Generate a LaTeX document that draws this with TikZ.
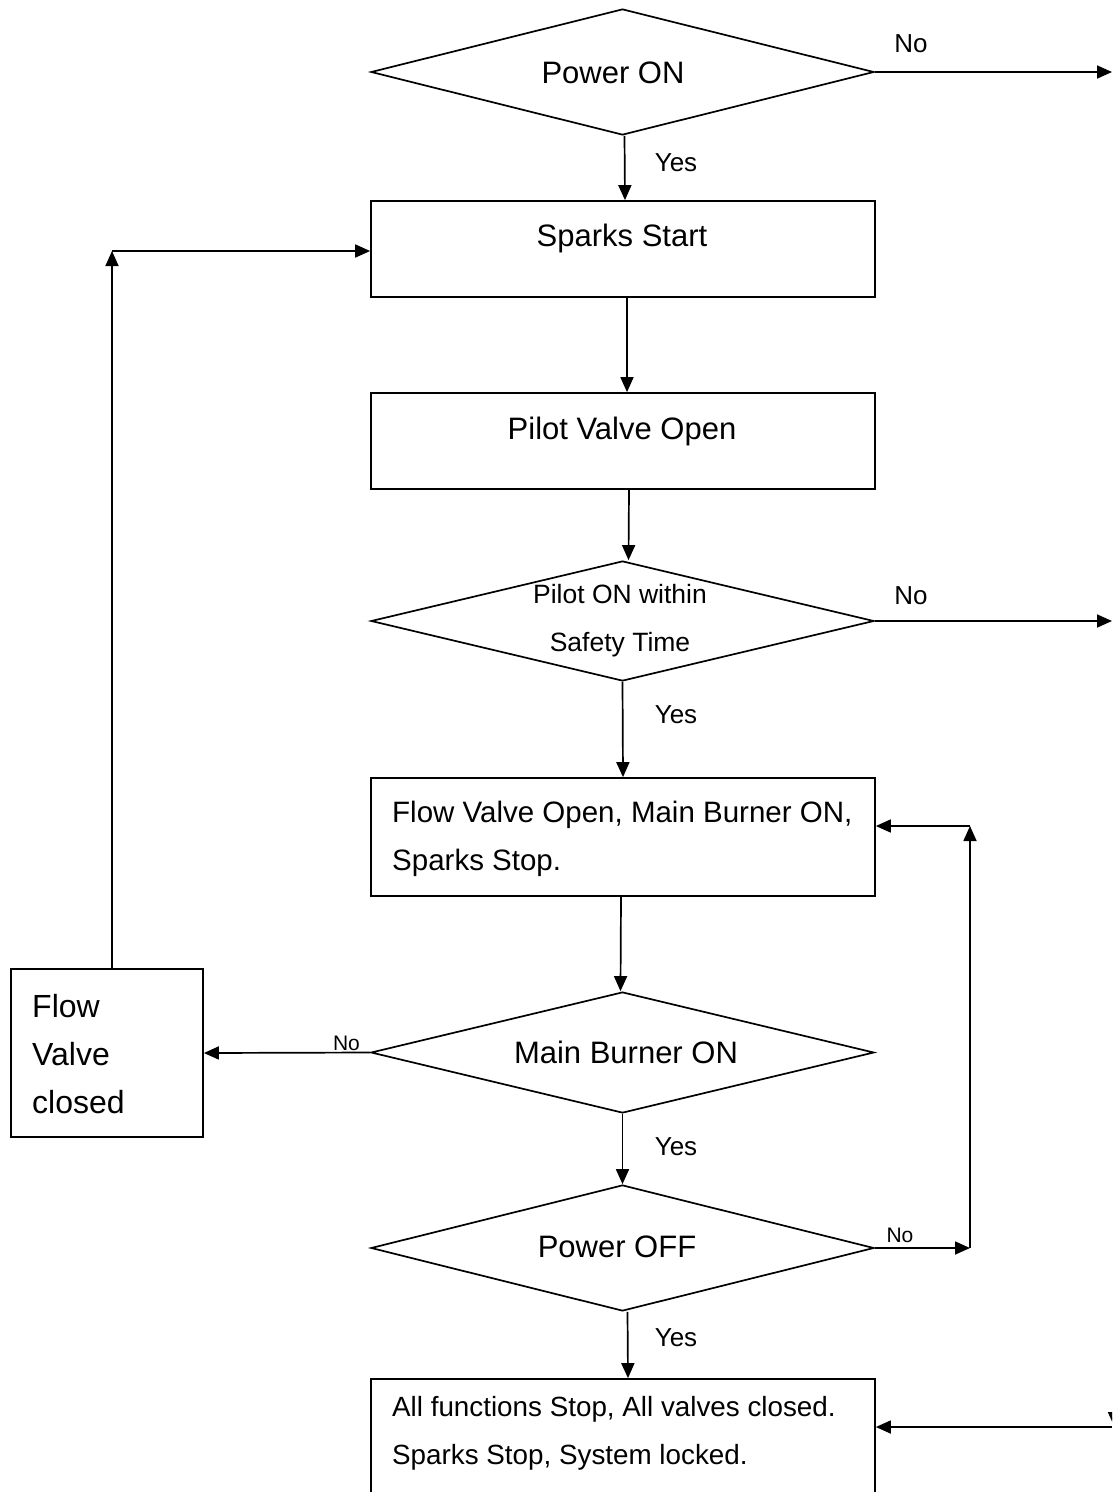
\documentclass[tikz,border=0pt]{standalone}
\usepackage{fontspec}
\setmainfont{Liberation Sans}
\usetikzlibrary{arrows.meta,shapes.geometric}
\begin{document}
\begin{tikzpicture}[x=1pt,y=-1pt,
  lw/.style={line width=1.7pt},
  tip/.style={-{Triangle[length=15pt,width=13pt]}},
  dia/.style={draw,lw,diamond,inner sep=0pt,minimum width=503pt},
  box/.style={draw,lw,rectangle,inner sep=0pt,minimum width=504pt},
  big/.style={font=\fontsize{31}{48}\selectfont,inner sep=0pt},
  mid/.style={font=\fontsize{29.5}{48}\selectfont,inner sep=0pt,align=left},
  lab/.style={font=\fontsize{26}{28}\selectfont,inner sep=0pt},
  sml/.style={font=\fontsize{21}{22}\selectfont,inner sep=0pt},
  conn/.style={lw,tip}]
\useasboundingbox (0,0) rectangle (1112,1492);
\clip (0,0) rectangle (1112,1492);
% shapes
\node[dia,minimum height=126pt] (d1) at (622.5,72) {};
\node[box,minimum height=96pt] (b1) at (623,249) {};
\node[box,minimum height=96pt] (b2) at (623,441) {};
\node[dia,minimum height=120pt] (d2) at (622.5,621) {};
\node[box,minimum height=118pt] (b3) at (623,837) {};
\node[dia,minimum height=121pt] (d3) at (622.5,1052.5) {};
\node[draw,lw,rectangle,inner sep=0pt,minimum width=192pt,minimum height=168pt] (b4) at (107,1053) {};
\node[dia,minimum height=126pt] (d4) at (622.5,1248) {};
\node[box,minimum height=141pt] (b5) at (623,1449.5) {};
% texts
\node[big] (t1) at (613,73) {Power ON};
\node[big] (t2) at (622,238) {Sparks Start};
\node[big] (t3) at (622,431) {Pilot Valve Open};
\node[font=\fontsize{26.5}{48}\selectfont,inner sep=0pt,align=center] (t4) at (620,621) {Pilot ON within\\Safety Time};
\node[mid,anchor=west] (t5) at (392,839) {Flow Valve Open, Main Burner ON,\\Sparks Stop.};
\node[big] (t6) at (626,1052) {Main Burner ON};
\node[mid,anchor=west,font=\fontsize{32}{48}\selectfont] (t7) at (32,1054) {Flow\\Valve\\closed};
\node[big] (t8) at (617,1247) {Power OFF};
\node[mid,anchor=west,font=\fontsize{27.8}{48}\selectfont] (t9) at (392,1433) {All functions Stop, All valves closed.\\Sparks Stop, System locked.};
% labels
\node[lab] (n1) at (911,44) {No};
\node[lab] (n2) at (911,596) {No};
\node[lab] (y1) at (676,163) {Yes};
\node[lab] (y2) at (676,715) {Yes};
\node[lab] (y3) at (676,1147) {Yes};
\node[lab] (y4) at (676,1338) {Yes};
\node[sml] (n3) at (346.5,1043) {No};
\node[sml] (n4) at (900,1235) {No};
% coordinates
\coordinate (e1) at (1112,72);
\coordinate (e2) at (1112,621);
\coordinate (e3) at (1112,1427);
\coordinate (u1) at (112,251);
\coordinate (r1) at (970,1248);
\coordinate (r2) at (970,826);
\coordinate (v1) at (1114.5,1360);
\coordinate (v2) at (1114.5,1427);
% connectors
\draw[conn] (d1.east) -- (e1);
\draw[conn] ([xshift=2pt]d1.south) -- ([xshift=2pt]b1.north);
\draw[conn] ([xshift=4pt]b1.south) -- ([xshift=4pt]b2.north);
\draw[conn] ([xshift=6pt]b2.south) -- ([xshift=6pt]d2.north);
\draw[conn] (d2.east) -- (e2);
\draw[conn] (d2.south) -- (b3.north);
\draw[conn] ([xshift=-2pt]b3.south) -- ([xshift=-2pt]d3.north);
\draw[conn] (d3.west) -- (b4.east);
\draw[conn] (b4.north -| u1) -- (u1);
\draw[conn] (u1) -- (b1.west |- u1);
\draw[conn] (d3.south) -- (d4.north);
\draw[conn] (d4.east) -- (r1);
\draw[conn] (r1) -- (r2);
\draw[conn] (r2) -- (b3.east |- r2);
\draw[conn] ([xshift=5pt]d4.south) -- ([xshift=5pt]b5.north);
\draw[conn] (e3) -- (b5.east |- e3);
\draw[conn] (v1) -- (v2);
\end{tikzpicture}
\end{document}
